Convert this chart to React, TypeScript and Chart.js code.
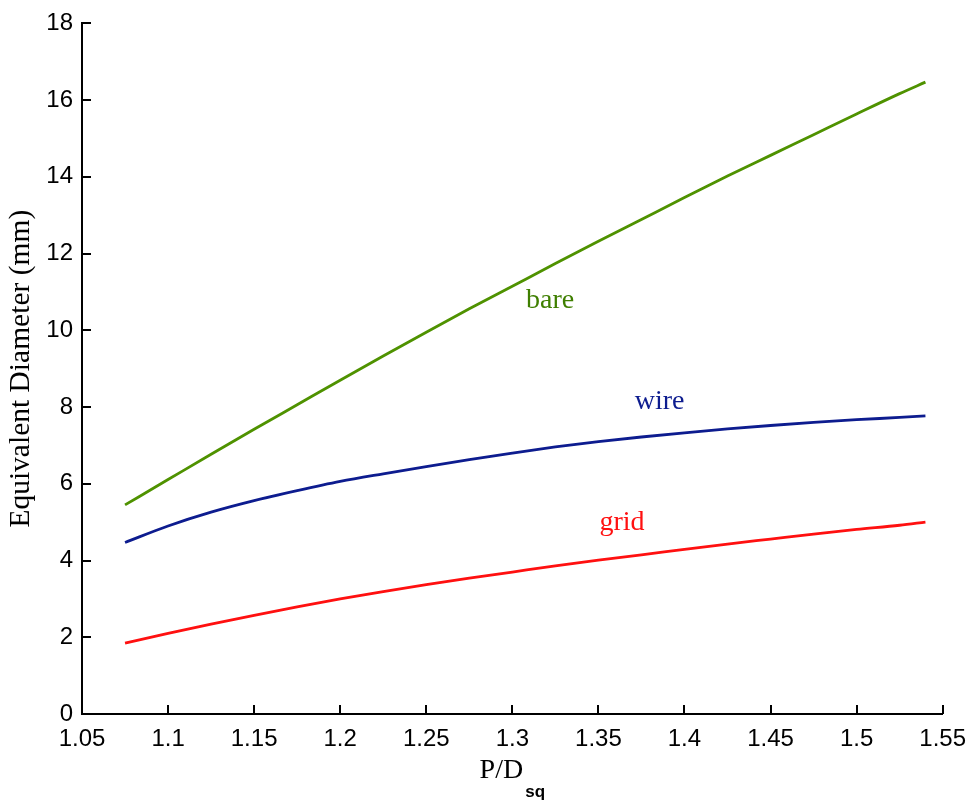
import { useEffect, useRef } from 'react';
import { Chart, registerables } from 'chart.js';

Chart.register(...registerables);

// Pitch-to-diameter ratio sampled along each curve
const pdValues = [1.075, 1.1, 1.125, 1.15, 1.175, 1.2, 1.225, 1.25, 1.275, 1.3, 1.325, 1.35, 1.375, 1.4, 1.425, 1.45, 1.475, 1.5, 1.525, 1.54];

// Equivalent diameter (mm) for each rod-bundle configuration
const bareDiameter = [5.45, 6.11, 6.77, 7.42, 8.06, 8.7, 9.33, 9.95, 10.56, 11.15, 11.74, 12.32, 12.89, 13.46, 14.02, 14.56, 15.1, 15.64, 16.17, 16.47];
const wireDiameter = [4.47, 4.9, 5.26, 5.56, 5.82, 6.06, 6.26, 6.45, 6.63, 6.8, 6.96, 7.1, 7.22, 7.33, 7.43, 7.52, 7.6, 7.67, 7.73, 7.77];
const gridDiameter = [1.85, 2.1, 2.34, 2.57, 2.79, 3.0, 3.19, 3.37, 3.54, 3.7, 3.86, 4.01, 4.15, 4.29, 4.43, 4.56, 4.69, 4.81, 4.92, 5.0];

const xTickValues = [1.05, 1.1, 1.15, 1.2, 1.25, 1.3, 1.35, 1.4, 1.45, 1.5, 1.55];
const xTickLabels = ['1.05', '1.1', '1.15', '1.2', '1.25', '1.3', '1.35', '1.4', '1.45', '1.5', '1.55'];
const yTickValues = [0, 2, 4, 6, 8, 10, 12, 14, 16, 18];
const yTickLabels = ['0', '2', '4', '6', '8', '10', '12', '14', '16', '18'];

const seriesNames = ['bare', 'wire', 'grid'];
const seriesColors = ['#4f9200', '#0d1c8f', '#ff1010'];
const labelColors = ['#3f7f00', '#0d1c8f', '#ff1010'];
// Inline label anchor in data units: [P/D, diameter]
const labelAnchors: [number, number][] = [[1.322, 10.59], [1.3856, 7.96], [1.3637, 4.79]];

const tickFont = "'Liberation Sans', Arial, sans-serif";
const serifFont = "'Liberation Serif', 'Times New Roman', serif";

const annotations = {
  id: 'matlabAnnotations',
  afterDraw(chart: any) {
    const { ctx, chartArea, scales } = chart;
    const xs = scales.x;
    const ys = scales.y;
    ctx.save();
    // inward tick marks
    ctx.strokeStyle = '#000';
    ctx.lineWidth = 2;
    ctx.beginPath();
    xs.ticks.forEach((t: any) => {
      const px = Math.round(xs.getPixelForValue(t.value));
      ctx.moveTo(px, chartArea.bottom);
      ctx.lineTo(px, chartArea.bottom - 9);
    });
    ys.ticks.forEach((t: any) => {
      const py = Math.round(ys.getPixelForValue(t.value));
      ctx.moveTo(chartArea.left, py);
      ctx.lineTo(chartArea.left + 9, py);
    });
    ctx.stroke();

    // curve labels
    ctx.font = `28px ${serifFont}`;
    ctx.textAlign = 'center';
    ctx.textBaseline = 'alphabetic';
    seriesNames.forEach((name, i) => {
      const [vx, vy] = labelAnchors[i];
      ctx.fillStyle = labelColors[i];
      ctx.fillText(name, xs.getPixelForValue(vx), ys.getPixelForValue(vy));
    });

    // x axis title with subscript
    ctx.fillStyle = '#000';
    ctx.textAlign = 'left';
    const mainText = 'P/D';
    const subText = 'sq';
    const mainFont = `28px ${serifFont}`;
    const subFont = `bold 17px 'Liberation Sans', Arial, sans-serif`;
    ctx.font = mainFont;
    const mw = ctx.measureText(mainText).width;
    ctx.font = subFont;
    const sw = ctx.measureText(subText).width;
    const gap = 2;
    const cx = (chartArea.left + chartArea.right) / 2;
    const startX = cx - (mw + gap + sw) / 2;
    const baseY = chartArea.bottom + 64;
    ctx.font = mainFont;
    ctx.fillText(mainText, startX, baseY);
    ctx.font = subFont;
    ctx.fillText(subText, startX + mw + gap, baseY + 19);
    ctx.restore();
  },
};

export default function App() {
  const canvasRef = useRef<HTMLCanvasElement | null>(null);

  useEffect(() => {
    if (!canvasRef.current) return;
    const makeSeries = (values: number[], i: number) => ({
      label: seriesNames[i],
      data: pdValues.map((x, k) => ({ x, y: values[k] })),
      borderColor: seriesColors[i],
      backgroundColor: seriesColors[i],
      borderWidth: 2.8,
      pointRadius: 0,
      cubicInterpolationMode: 'monotone' as const,
      fill: false,
    });

    const chart = new Chart(canvasRef.current, {
      type: 'line',
      data: {
        datasets: [
          makeSeries(bareDiameter, 0),
          makeSeries(wireDiameter, 1),
          makeSeries(gridDiameter, 2),
        ],
      },
      options: {
        animation: false,
        responsive: true,
        maintainAspectRatio: false,
        layout: { padding: { left: 0, top: 22, right: 29, bottom: 0 } },
        plugins: {
          legend: { display: false },
          tooltip: { enabled: false },
        },
        scales: {
          x: {
            type: 'linear',
            min: 1.05,
            max: 1.55,
            afterBuildTicks: (scale: any) => {
              scale.ticks = xTickValues.map((v) => ({ value: v }));
            },
            afterFit: (scale: any) => {
              scale.height = 87;
            },
            grid: { display: false, drawTicks: false },
            border: { display: true, color: '#000', width: 2 },
            ticks: {
              color: '#000',
              font: { family: tickFont, size: 24 },
              padding: 11,
              maxRotation: 0,
              autoSkip: false,
              callback: (_v: any, i: number) => xTickLabels[i],
            },
          },
          y: {
            type: 'linear',
            min: 0,
            max: 18,
            afterBuildTicks: (scale: any) => {
              scale.ticks = yTickValues.map((v) => ({ value: v }));
            },
            afterFit: (scale: any) => {
              scale.width = 82;
            },
            grid: { display: false, drawTicks: false },
            border: { display: true, color: '#000', width: 2 },
            ticks: {
              color: '#000',
              font: { family: tickFont, size: 24 },
              padding: 9,
              autoSkip: false,
              callback: (_v: any, i: number) => yTickLabels[i],
            },
            title: {
              display: true,
              text: 'Equivalent Diameter (mm)',
              color: '#000',
              font: { family: serifFont, size: 29.5 },
              padding: { top: 4, bottom: 0 },
            },
          },
        },
      },
      plugins: [annotations],
    });

    return () => chart.destroy();
  }, []);

  return (
    <div style={{ position: 'absolute', left: 0, top: 0, width: 977, height: 801, background: '#fff' }}>
      <canvas ref={canvasRef} />
    </div>
  );
}
